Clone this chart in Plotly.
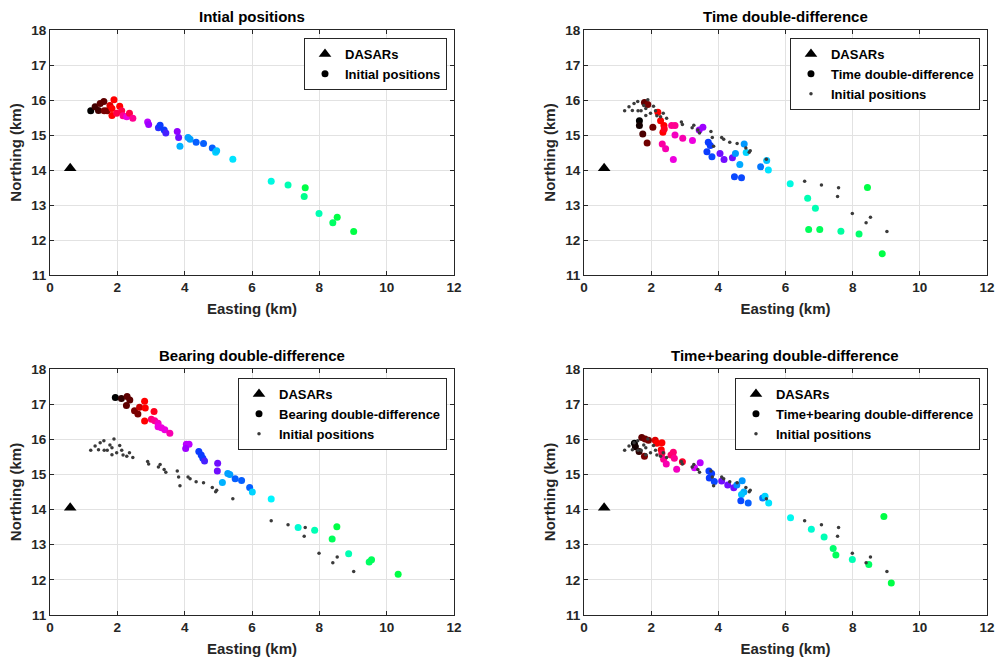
import plotly.graph_objects as go

# ---------------- data ----------------
dasar_x = [0.6]
dasar_y = [14.05]

# initial positions (x km, y km, colour value = relative call time)
init_x = [1.21, 1.34, 1.44, 1.49, 1.60, 1.61, 1.70, 1.78, 1.84, 1.84, 1.90, 1.98, 2.07, 2.13, 2.17,
          2.28, 2.36, 2.46, 2.90, 2.93, 3.22, 3.27, 3.39, 3.44, 3.78, 3.82, 3.86, 4.10, 4.16, 4.34,
          4.56, 4.82, 4.92, 4.95, 5.43, 6.57, 7.07, 7.58, 7.55, 7.99, 8.40, 8.53, 9.02]
init_y = [15.69, 15.81, 15.70, 15.90, 15.96, 15.69, 15.69, 15.84, 15.76, 15.56, 16.01, 15.62, 15.82, 15.69, 15.55,
          15.52, 15.62, 15.48, 15.37, 15.30, 15.21, 15.28, 15.14, 15.06, 15.10, 14.93, 14.68, 14.93, 14.88, 14.79,
          14.76, 14.63, 14.51, 14.55, 14.31, 13.68, 13.57, 13.49, 13.24, 12.76, 12.49, 12.65, 12.24]
init_t = [0.00, 0.07, 0.07, 0.10, 0.10, 0.13, 0.13, 0.22, 0.25, 0.25, 0.25, 0.30, 0.25, 0.30, 0.35,
          0.40, 0.30, 0.35, 0.45, 0.47, 0.55, 0.57, 0.57, 0.53, 0.48, 0.50, 0.68, 0.66, 0.66, 0.60,
          0.60, 0.60, 0.72, 0.70, 0.74, 0.80, 0.86, 0.97, 0.90, 0.86, 0.94, 0.97, 0.97]

# time double-difference
tdd_x = [1.80, 1.90, 2.20, 2.28, 1.65, 1.65, 1.75, 1.88, 2.05, 2.38, 2.35, 2.39, 2.61, 2.71, 2.71, 2.94,
         2.33, 2.43, 2.66, 3.23, 3.43, 3.54, 3.70, 3.76, 3.66, 3.81, 4.05, 4.17, 4.42, 4.51, 4.77, 4.83,
         4.64, 4.48, 4.69, 5.26, 5.44, 5.49, 6.14, 6.66, 6.89, 6.69, 7.02, 7.65, 8.19, 8.44, 8.88]
tdd_y = [15.93, 15.87, 15.65, 15.41, 15.41, 15.27, 15.03, 14.77, 15.22, 15.27, 15.08, 15.17, 15.27, 15.27, 15.00, 14.91,
         14.74, 14.61, 14.30, 14.84, 15.14, 15.22, 14.79, 14.70, 14.52, 14.38, 14.47, 14.30, 14.35, 14.47, 14.74, 14.50,
         14.16, 13.81, 13.78, 14.09, 14.27, 14.00, 13.61, 13.19, 12.91, 12.30, 12.30, 12.25, 12.17, 13.50, 11.61]
tdd_t = [0.10, 0.13, 0.25, 0.25, 0.00, 0.02, 0.08, 0.12, 0.12, 0.25, 0.25, 0.27, 0.35, 0.35, 0.38, 0.37,
         0.36, 0.37, 0.40, 0.40, 0.47, 0.47, 0.57, 0.57, 0.57, 0.58, 0.50, 0.50, 0.50, 0.65, 0.65, 0.72,
         0.67, 0.58, 0.58, 0.62, 0.70, 0.74, 0.80, 0.86, 0.86, 0.95, 0.95, 0.88, 0.93, 0.97, 0.97]

# bearing double-difference
bdd_x = [1.94, 2.12, 2.29, 2.37, 2.27, 2.51, 2.61, 2.66, 2.81, 2.83, 2.81, 3.09, 3.01, 3.11, 3.21,
         3.21, 3.31, 3.41, 3.56, 4.05, 4.13, 4.03, 4.42, 4.49, 4.54, 4.59, 4.98, 4.97, 5.28, 5.34,
         5.12, 5.50, 5.69, 5.93, 6.01, 6.57, 7.37, 7.86, 8.52, 8.38, 8.87, 9.48, 9.55, 10.34]
bdd_y = [17.19, 17.16, 17.22, 17.12, 16.96, 16.81, 16.72, 16.91, 17.08, 16.89, 16.52, 16.79, 16.57, 16.53, 16.46,
         16.36, 16.33, 16.27, 16.17, 15.86, 15.86, 15.74, 15.65, 15.55, 15.46, 15.38, 15.32, 15.10, 15.03, 15.00,
         14.77, 14.88, 14.83, 14.63, 14.50, 14.30, 13.49, 13.41, 13.51, 13.16, 12.74, 12.51, 12.57, 12.16]
bdd_t = [0.00, 0.05, 0.10, 0.10, 0.10, 0.13, 0.13, 0.20, 0.25, 0.25, 0.25, 0.27, 0.33, 0.35, 0.38,
         0.40, 0.40, 0.40, 0.37, 0.45, 0.45, 0.47, 0.57, 0.57, 0.57, 0.53, 0.50, 0.50, 0.66, 0.66,
         0.68, 0.60, 0.60, 0.60, 0.72, 0.76, 0.82, 0.86, 0.97, 0.95, 0.86, 0.94, 0.95, 0.97]

# time+bearing double-difference
tbdd_x = [1.50, 1.53, 1.64, 1.80, 1.72, 1.82, 1.92, 2.12, 2.17, 2.32, 2.30, 2.32, 2.37, 2.45, 2.59, 2.66,
          2.69, 2.76, 2.93, 3.29, 3.46, 3.72, 3.80, 3.73, 3.88, 4.10, 4.28, 4.46, 4.55, 4.71, 4.76, 4.69,
          4.67, 4.89, 5.32, 5.39, 5.50, 6.15, 6.77, 7.15, 7.42, 7.50, 7.99, 8.48, 8.93, 9.15]
tbdd_y = [15.89, 15.79, 15.65, 15.52, 16.05, 16.01, 15.97, 15.97, 15.89, 15.90, 15.70, 15.60, 15.43, 15.30, 15.55, 15.63,
          15.46, 15.15, 15.36, 15.19, 15.33, 15.10, 15.03, 14.90, 14.80, 14.81, 14.70, 14.62, 14.70, 14.82, 14.50, 14.43,
          14.25, 14.19, 14.33, 14.38, 14.19, 13.77, 13.44, 13.22, 12.89, 12.71, 12.58, 12.44, 13.80, 11.91]
tbdd_t = [0.00, 0.02, 0.05, 0.13, 0.10, 0.12, 0.13, 0.22, 0.25, 0.25, 0.25, 0.30, 0.35, 0.37, 0.32, 0.33,
          0.35, 0.38, 0.28, 0.43, 0.45, 0.57, 0.57, 0.57, 0.58, 0.50, 0.50, 0.50, 0.64, 0.65, 0.68, 0.70,
          0.58, 0.60, 0.62, 0.72, 0.74, 0.78, 0.82, 0.86, 0.93, 0.95, 0.86, 0.94, 0.97, 0.97]

titles = ["Intial positions", "Time double-difference", "Bearing double-difference",
          "Time+bearing double-difference"]
method_names = ["Initial positions", "Time double-difference", "Bearing double-difference",
                "Time+bearing double-difference"]

# ---------------- style ----------------
FONT = "Liberation Sans, Arial, Helvetica, sans-serif"
TXT = "#262626"
colorscale = [
    [0.00, "#000000"], [0.13, "#7a0000"], [0.25, "#ff0000"], [0.35, "#ff0090"],
    [0.42, "#e600ff"], [0.48, "#9000ff"], [0.57, "#0a3cff"], [0.65, "#0099ff"],
    [0.76, "#00f5ff"], [0.86, "#00ffb4"], [1.00, "#00ff28"],
]

# plot-area domains (paper fractions)
xdom = [[0.0, 0.4312], [0.5699, 1.0], [0.0, 0.4312], [0.5699, 1.0]]
ydom = [[0.5812, 1.0], [0.5812, 1.0], [0.0, 0.4205], [0.0, 0.4205]]
legend_pos = [(0.4237, 0.9863), (0.9925, 0.9863), (0.4237, 0.4051), (0.9925, 0.4051)]

main_data = [(init_x, init_y, init_t), (tdd_x, tdd_y, tdd_t), (bdd_x, bdd_y, bdd_t), (tbdd_x, tbdd_y, tbdd_t)]

fig = go.Figure()
layout = {}
for i in range(4):
    n = i + 1
    xa = "x" if n == 1 else f"x{n}"
    ya = "y" if n == 1 else f"y{n}"
    lg = "legend" if n == 1 else f"legend{n}"
    mx, my, mt = main_data[i]

    # DASARs
    fig.add_trace(go.Scatter(x=dasar_x, y=dasar_y, mode="markers", xaxis=xa, yaxis=ya,
                             marker=dict(symbol="triangle-up", size=11, color="black"),
                             name="DASARs", legend=lg, showlegend=True, hoverinfo="skip"))
    # main positions (coloured by call time)
    fig.add_trace(go.Scatter(x=mx, y=my, mode="markers", xaxis=xa, yaxis=ya,
                             marker=dict(size=7, color=mt, colorscale=colorscale, cmin=0, cmax=1,
                                         line=dict(width=0)),
                             showlegend=False, hoverinfo="skip"))
    fig.add_trace(go.Scatter(x=[None], y=[None], mode="markers", xaxis=xa, yaxis=ya,
                             marker=dict(size=7, color="black"), name=method_names[i],
                             legend=lg, showlegend=True))
    if i > 0:
        fig.add_trace(go.Scatter(x=init_x, y=init_y, mode="markers", xaxis=xa, yaxis=ya,
                                 marker=dict(size=3.5, color="#3a3a3a", line=dict(width=0)),
                                 name="Initial positions", legend=lg, showlegend=True,
                                 hoverinfo="skip"))

    axis_common = dict(showgrid=True, gridcolor="#e2e2e2", gridwidth=1, zeroline=False,
                       showline=True, linecolor=TXT, linewidth=1, mirror="ticks",
                       ticks="inside", ticklen=4, tickcolor=TXT, automargin=False,
                       tickfont=dict(family=FONT, size=13.5, color=TXT, weight="bold"))
    layout["xaxis" if n == 1 else f"xaxis{n}"] = dict(
        axis_common, domain=xdom[i], range=[0, 12], dtick=2, tick0=0,
        anchor=ya,
        title=dict(text="Easting (km)", font=dict(family=FONT, size=15, color=TXT, weight="bold"),
                   standoff=9))
    layout["yaxis" if n == 1 else f"yaxis{n}"] = dict(
        axis_common, domain=ydom[i], range=[11, 18], dtick=1, tick0=11,
        anchor=xa,
        title=dict(text="Northing (km)", font=dict(family=FONT, size=15, color=TXT, weight="bold"),
                   standoff=6))
    layout[lg] = dict(x=legend_pos[i][0], y=legend_pos[i][1], xanchor="right", yanchor="top",
                      xref="paper", yref="paper",
                      bgcolor="white", bordercolor=TXT, borderwidth=1,
                      font=dict(family=FONT, size=13, color="black", weight="bold"),
                      tracegroupgap=0, itemsizing="trace")

annotations = []
for i in range(4):
    annotations.append(dict(text=f"<b>{titles[i]}</b>", x=(xdom[i][0] + xdom[i][1]) / 2,
                            y=ydom[i][1], xref="paper", yref="paper", xanchor="center",
                            yanchor="bottom", yshift=3, showarrow=False,
                            font=dict(family=FONT, size=15, color="black")))

fig.update_layout(**layout)
fig.update_layout(width=995, height=660, margin=dict(l=50, r=8, t=30, b=45),
                  plot_bgcolor="white", paper_bgcolor="white", annotations=annotations,
                  font=dict(family=FONT, color=TXT))

fig.write_html("out.html")
